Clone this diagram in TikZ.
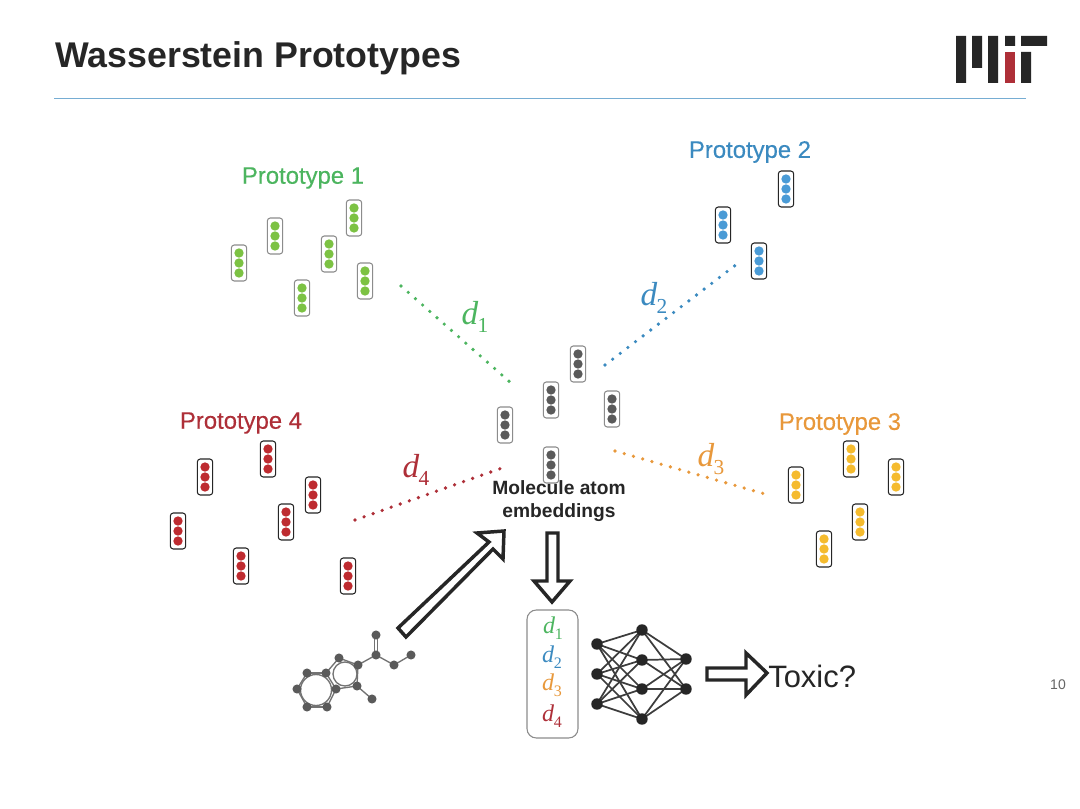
\documentclass[tikz,border=0pt]{standalone}
\usepackage{fontspec}
\setmainfont{Liberation Sans}
\newfontfamily\dfont{Liberation Serif}
\newfontfamily\medfont[FakeBold=0.25]{Liberation Sans}
\usetikzlibrary{calc}
\pgfdeclarelayer{under}
\pgfsetlayers{under,main}
\definecolor{cgreen}{HTML}{4CB55F}
\definecolor{vgreen}{HTML}{7CC243}
\definecolor{cblue}{HTML}{3B8AC0}
\definecolor{vblue}{HTML}{4A9BD6}
\definecolor{corange}{HTML}{E8983B}
\definecolor{vyellow}{HTML}{F5BB2E}
\definecolor{cred}{HTML}{AE2F38}
\definecolor{vred}{HTML}{BE2B30}
\definecolor{cgray}{HTML}{5A5A5A}
\definecolor{bgray}{HTML}{8C8C8C}
\definecolor{ink}{HTML}{262626}
\newcommand{\dlab}[2]{{\dfont\fontsize{#2}{#2}\selectfont\itshape d\raisebox{-0.25em}{\kern-0.02em\fontsize{\numexpr#2*13/20\relax}{#2}\selectfont\upshape #1}}}
\newcommand{\vect}[5]{%
  \node[vbox,draw=#5] (#1) at (#2,#3) {};
  \fill[#4] ([yshift=7.5pt]#1.center) circle (3.5pt) (#1.center) circle (3.5pt) ([yshift=-7.5pt]#1.center) circle (3.5pt);}
\tikzset{
  vbox/.style={rounded corners=2.2pt,line width=0.8pt,minimum width=11.5pt,minimum height=27pt,inner sep=0pt,fill=white},
  proto/.style={font=\medfont\fontsize{17.9}{20}\selectfont,inner sep=0pt},
  dots/.style={line width=2.7pt,line cap=round,dash pattern=on 0pt off 7.2pt},
  hollow/.style={draw=ink,fill=white,line width=2.6pt,line join=miter},
  atom/.style={circle,fill=cgray,minimum size=6.8pt,inner sep=0pt},
  bond/.style={draw=cgray!85,line width=1pt},
  neuron/.style={circle,fill=ink,minimum size=8.6pt,inner sep=0pt},
  syn/.style={draw=ink!90,line width=1.3pt},
  logo/.style={fill=ink}
}
\begin{document}
\begin{tikzpicture}[x=0.75pt,y=-0.75pt]
\useasboundingbox (0,0) rectangle (1080,809);
\begin{pgfonlayer}{under}
\fill[white] (0,0) rectangle (1080,809);
\end{pgfonlayer}
% header
\node[anchor=west,inner sep=0pt,text=ink,font=\bfseries\fontsize{26.8}{30}\selectfont] (title) at (55,58) {Wasserstein Prototypes};
\coordinate (ruleL) at (54,98.5); \coordinate (ruleR) at (1026,98.5);
\draw[color=cblue!70,line width=1pt] (ruleL) -- (ruleR);
\fill[logo] (956,36) rectangle (966,83) (972,36) rectangle (982,68) (988,36) rectangle (998,83) (1005,36) rectangle (1015,46) (1021,52) rectangle (1031,83) (1021,36) rectangle (1047,46);
\fill[cred] (1005,52) rectangle (1015,83);
\node[text=black!60,font=\fontsize{10.5}{12}\selectfont,inner sep=0pt] (pageno) at (1058,685) {10};
% prototype titles
\node[proto,text=cgreen] (p1) at (303,178) {Prototype 1};
\node[proto,text=cblue] (p2) at (750,152) {Prototype 2};
\node[proto,text=corange] (p3) at (840,424) {Prototype 3};
\node[proto,text=cred] (p4) at (241,423) {Prototype 4};
% vectors
\vect{g1}{239}{263}{vgreen}{bgray}
\vect{g2}{275}{236}{vgreen}{bgray}
\vect{g3}{302}{298}{vgreen}{bgray}
\vect{g4}{329}{254}{vgreen}{bgray}
\vect{g5}{354}{218}{vgreen}{bgray}
\vect{g6}{365}{281}{vgreen}{bgray}
\vect{b1}{723}{225}{vblue}{ink}
\vect{b2}{786}{189}{vblue}{ink}
\vect{b3}{759}{261}{vblue}{ink}
\vect{m1}{505}{425}{cgray}{bgray}
\vect{m2}{551}{400}{cgray}{bgray}
\vect{m3}{578}{364}{cgray}{bgray}
\vect{m4}{612}{409}{cgray}{bgray}
\vect{m5}{551}{465}{cgray}{bgray}
\vect{r1}{205}{477}{vred}{ink}
\vect{r2}{268}{459}{vred}{ink}
\vect{r3}{313}{495}{vred}{ink}
\vect{r4}{178}{531}{vred}{ink}
\vect{r5}{286}{522}{vred}{ink}
\vect{r6}{241}{566}{vred}{ink}
\vect{r7}{348}{576}{vred}{ink}
\vect{y1}{796}{485}{vyellow}{ink}
\vect{y2}{851}{459}{vyellow}{ink}
\vect{y3}{896}{477}{vyellow}{ink}
\vect{y4}{824}{549}{vyellow}{ink}
\vect{y5}{860}{522}{vyellow}{ink}
% dotted distances
\coordinate (d1a) at (401,286); \coordinate (d1b) at (511,383);
\coordinate (d2a) at (605,365); \coordinate (d2b) at (737,264);
\coordinate (d3a) at (615,451); \coordinate (d3b) at (765,494);
\coordinate (d4a) at (355,520); \coordinate (d4b) at (502,468);
\draw[dots,cgreen] (d1a) -- (d1b);
\draw[dots,cblue] (d2a) -- (d2b);
\draw[dots,corange] (d3a) -- (d3b);
\draw[dots,cred] (d4a) -- (d4b);
\node[text=cgreen,inner sep=0pt] (l1) at (475,317) {\dlab{1}{25}};
\node[text=cblue,inner sep=0pt] (l2) at (654,298) {\dlab{2}{25}};
\node[text=corange,inner sep=0pt] (l3) at (711,459) {\dlab{3}{25}};
\node[text=cred,inner sep=0pt] (l4) at (416,470) {\dlab{4}{25}};
% caption
\node[align=center,inner sep=0pt,text=ink,font=\bfseries\fontsize{14.4}{17}\selectfont] (cap) at (559,501) {Molecule atom\\embeddings};
% hollow arrows
\draw[hollow] (398,628) -- (489,542) -- (477,533) -- (504,531) -- (503,559) -- (493,549) -- (406,637) -- cycle;
\draw[hollow] (547,533) -- (558,533) -- (558,581) -- (570,581) -- (552,602) -- (534,581) -- (547,581) -- cycle;
\draw[hollow] (707,668) -- (746,668) -- (746,653) -- (767,673) -- (746,695) -- (746,680) -- (707,680) -- cycle;
% molecule
\node[atom] (a1) at (376,635) {};
\node[atom] (a2) at (376,655) {};
\node[atom] (a3) at (394,665) {};
\node[atom] (a4) at (411,655) {};
\node[atom] (a5) at (358,665) {};
\node[atom] (a6) at (339,658) {};
\node[atom] (a7) at (357,686) {};
\node[atom] (a8) at (372,699) {};
\node[atom] (a9) at (336,689) {};
\node[atom] (a10) at (326,673) {};
\node[atom] (a11) at (307,673) {};
\node[atom] (a12) at (297,689) {};
\node[atom] (a13) at (307,707) {};
\node[atom] (a14) at (327,707) {};
\begin{pgfonlayer}{under}
\draw[bond] ([xshift=-1pt]a1.center) -- ([xshift=-1pt]a2.center);
\draw[bond] ([xshift=1pt]a1.center) -- ([xshift=1pt]a2.center);
\foreach \p/\q in {a2/a3,a3/a4,a2/a5,a5/a6,a5/a7,a7/a8,a7/a9,a9/a10,a10/a6,a10/a11,a11/a12,a12/a13,a13/a14,a14/a9}
  \draw[bond] (\p.center) -- (\q.center);
\coordinate (ring5) at (345,674);
\coordinate (ring6) at (316,690);
\draw[bond] (ring5) circle (12);
\draw[bond] (ring6) circle (15.5);
\end{pgfonlayer}
% legend box
\node[draw=bgray,rounded corners=7pt,line width=0.8pt,minimum width=38.25pt,minimum height=96pt,inner sep=0pt] (legend) at (552.5,674) {};
\node[text=cgreen,inner sep=0pt] (e1) at (553,628) {\dlab{1}{18}};
\node[text=cblue,inner sep=0pt] (e2) at (552,657) {\dlab{2}{18}};
\node[text=corange,inner sep=0pt] (e3) at (552,685) {\dlab{3}{18}};
\node[text=cred,inner sep=0pt] (e4) at (552,716) {\dlab{4}{18}};
% network
\foreach \i/\yy in {1/644,2/674,3/704} \node[neuron] (in\i) at (597,\yy) {};
\foreach \i/\yy in {1/630,2/660,3/689,4/719} \node[neuron] (hid\i) at (642,\yy) {};
\foreach \i/\yy in {1/659,2/689} \node[neuron] (out\i) at (686,\yy) {};
\begin{pgfonlayer}{under}
\foreach \i in {1,2,3} \foreach \j in {1,2,3,4} \draw[syn] (in\i.center) -- (hid\j.center);
\foreach \i in {1,2,3,4} \foreach \j in {1,2} \draw[syn] (hid\i.center) -- (out\j.center);
\end{pgfonlayer}
% result
\node[anchor=west,inner sep=0pt,text=ink,font=\fontsize{23.2}{26}\selectfont] (toxic) at (768,676) {Toxic?};
\end{tikzpicture}
\end{document}
